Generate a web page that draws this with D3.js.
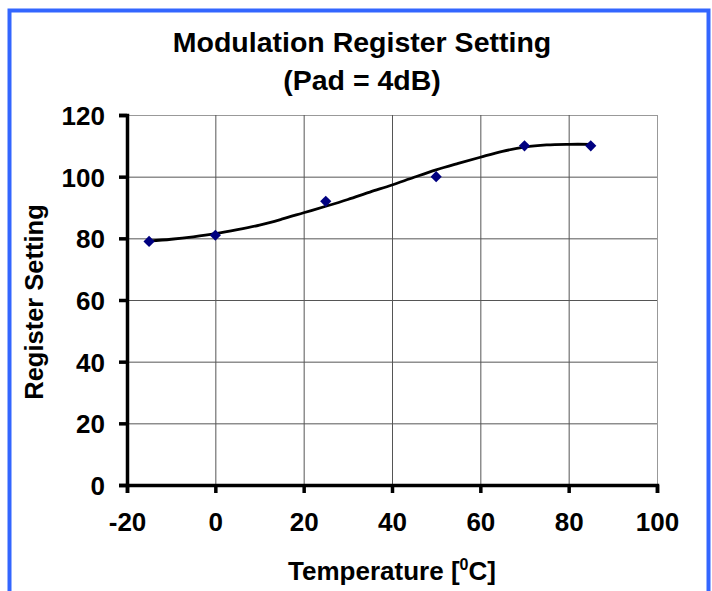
<!DOCTYPE html>
<html>
<head>
<meta charset="utf-8">
<script src="https://cdn.jsdelivr.net/npm/d3@7"></script>
<style>
	html, body { margin: 0; padding: 0; background: #fff; }
	svg text { font-family: "Liberation Sans", Arial, sans-serif; font-weight: bold; fill: #000; }
</style>
</head>
<body>
<svg id="chart" width="712" height="591"></svg>
<script>
// measured points
var temps = [-15, 0, 25, 50, 70, 85];
var settings = [79, 81, 92, 100, 110, 110];

// trendline
var trendX = [-15, -10, -5, 0, 5, 10, 15, 20, 25, 30, 35, 40, 45, 50, 55, 60, 65, 70, 75, 80, 85];
var trendY = [79.1, 79.7, 80.5, 81.5, 82.8, 84.3, 86.2, 88.3, 90.4, 92.6, 95.0, 97.3, 99.8, 102.2, 104.3, 106.3, 108.2, 109.6, 110.3, 110.5, 110.5];

var xTicks = [-20, 0, 20, 40, 60, 80, 100];
var yTicks = [0, 20, 40, 60, 80, 100, 120];

var svg = d3.select("#chart");

var x = d3.scaleLinear().domain([-20, 100]).range([127, 657]),
	y = d3.scaleLinear().domain([0, 120]).range([485, 115]);

// outer blue frame
svg.append("rect")
	.attr("x", 9.5).attr("y", 10.5)
	.attr("width", 699).attr("height", 600)
	.attr("fill", "none")
	.attr("stroke", "#3366ff")
	.attr("stroke-width", 4);

// title
var title = svg.append("text")
	.attr("text-anchor", "middle")
	.attr("font-size", 28.5);
title.append("tspan").attr("x", 362).attr("y", 52).text("Modulation Register Setting");
title.append("tspan").attr("x", 362).attr("y", 90).text("(Pad = 4dB)");

// grid
svg.append("g").selectAll("line")
	.data(yTicks.slice(1))
	.enter().append("line")
		.attr("x1", x(-20)).attr("x2", x(100))
		.attr("y1", function(d) { return y(d) + 0.5; })
		.attr("y2", function(d) { return y(d) + 0.5; })
		.attr("stroke", function(d) { return d === 120 ? "#999" : "#555"; })
		.attr("stroke-width", 1);

svg.append("g").selectAll("line")
	.data(xTicks.slice(1))
	.enter().append("line")
		.attr("y1", y(0)).attr("y2", y(120))
		.attr("x1", function(d) { return x(d) + 0.5; })
		.attr("x2", function(d) { return x(d) + 0.5; })
		.attr("stroke", function(d) { return d === 100 ? "#999" : "#555"; })
		.attr("stroke-width", 1);

// axes
var fmt = function(d) { return String(d); };
var xAxis = d3.axisBottom(x).tickValues(xTicks).tickFormat(fmt).tickSize(8).tickPadding(20),
	yAxis = d3.axisLeft(y).tickValues(yTicks).tickFormat(fmt).tickSize(8).tickPadding(14);

var gx = svg.append("g")
	.attr("transform", "translate(0," + y(0) + ")")
	.call(xAxis);

var gy = svg.append("g")
	.attr("transform", "translate(" + x(-20) + ",0)")
	.call(yAxis);

[gx, gy].forEach(function(g) {
	g.select(".domain").attr("stroke", "#000").attr("stroke-width", 3.5);
	g.selectAll(".tick line").attr("stroke", "#000").attr("stroke-width", 3.5);
	g.selectAll(".tick text")
		.attr("font-family", "Liberation Sans, Arial, sans-serif")
		.attr("font-weight", "bold")
		.attr("font-size", 26)
		.attr("fill", "#000");
});
gy.selectAll(".tick text").attr("dy", "0.36em");

// axis titles
var xl = svg.append("text")
	.attr("x", 392).attr("y", 580)
	.attr("text-anchor", "middle")
	.attr("font-size", 26);
xl.append("tspan").text("Temperature [");
xl.append("tspan").attr("font-size", 16).attr("dy", -10).text("0");
xl.append("tspan").attr("dy", 10).text("C]");

svg.append("text")
	.attr("transform", "translate(43,302) rotate(-90)")
	.attr("text-anchor", "middle")
	.attr("font-size", 25.5)
	.text("Register Setting");

// trendline
var line = d3.line()
	.x(function(d) { return x(d[0]); })
	.y(function(d) { return y(d[1]); })
	.curve(d3.curveCatmullRom);

svg.append("path")
	.datum(d3.zip(trendX, trendY))
	.attr("d", line)
	.attr("fill", "none")
	.attr("stroke", "#000")
	.attr("stroke-width", 2.8);

// markers
svg.append("g").selectAll("path")
	.data(d3.zip(temps, settings))
	.enter().append("path")
		.attr("d", d3.symbol().type(d3.symbolDiamond2).size(80))
		.attr("transform", function(d) { return "translate(" + x(d[0]) + "," + y(d[1]) + ")"; })
		.attr("fill", "#000080");
</script>
</body>
</html>
